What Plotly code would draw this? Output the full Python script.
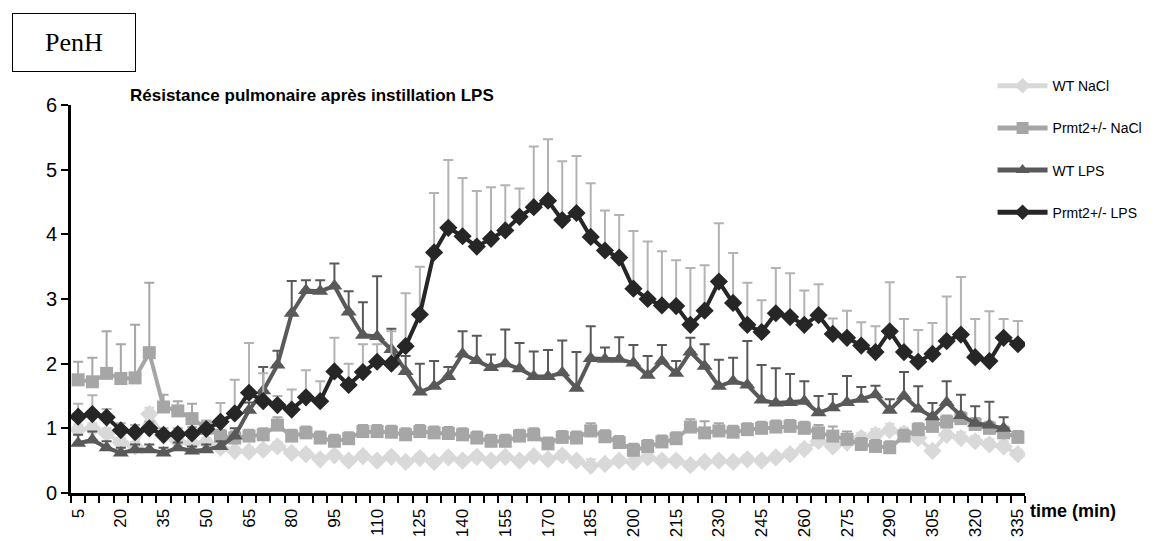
import plotly.graph_objects as go

# time points (min)
time_min = list(range(5, 340, 5))
tick_labels = list(range(5, 340, 15))

# mean PenH per group
wt_nacl = [0.98, 1.00, 0.92, 0.78, 0.72, 1.22, 0.88, 0.80, 0.76, 0.78,
           0.70, 0.65, 0.64, 0.67, 0.72, 0.62, 0.60, 0.52, 0.58, 0.50,
           0.57, 0.50, 0.56, 0.48, 0.54, 0.48, 0.55, 0.50, 0.56, 0.50,
           0.56, 0.50, 0.57, 0.52, 0.58, 0.50, 0.42, 0.45, 0.50, 0.48,
           0.55, 0.50, 0.50, 0.43, 0.48, 0.50, 0.48, 0.52, 0.50, 0.55,
           0.60, 0.68, 0.80, 0.72, 0.78, 0.85, 0.90, 0.97, 0.92, 0.85,
           0.65, 0.90, 0.85, 0.80, 0.75, 0.72, 0.60]
prmt2_nacl = [1.75, 1.72, 1.85, 1.77, 1.78, 2.17, 1.33, 1.27, 1.15, 1.00,
              0.88, 0.85, 0.88, 0.90, 1.05, 0.88, 0.93, 0.85, 0.80, 0.84,
              0.95, 0.95, 0.94, 0.90, 0.95, 0.93, 0.92, 0.90, 0.85, 0.80,
              0.80, 0.88, 0.90, 0.76, 0.86, 0.85, 0.96, 0.87, 0.78, 0.66,
              0.72, 0.79, 0.84, 1.02, 0.93, 0.96, 0.94, 0.98, 1.00, 1.02,
              1.03, 1.00, 0.93, 0.88, 0.83, 0.75, 0.72, 0.70, 0.88, 0.98,
              1.03, 1.10, 1.15, 1.06, 1.00, 0.93, 0.86]
wt_lps = [0.77, 0.82, 0.70, 0.62, 0.67, 0.67, 0.62, 0.70, 0.65, 0.67,
          0.72, 0.88, 1.28, 1.58, 1.98, 2.78, 3.13, 3.12, 3.20, 2.80,
          2.44, 2.42, 2.22, 1.88, 1.56, 1.65, 1.80, 2.15, 2.05, 1.94,
          2.00, 1.92, 1.80, 1.80, 1.86, 1.62, 2.08, 2.07, 2.07, 2.01,
          1.82, 2.04, 1.85, 2.18, 1.96, 1.65, 1.73, 1.67, 1.44, 1.39,
          1.40, 1.42, 1.24, 1.32, 1.40, 1.45, 1.52, 1.28, 1.50, 1.30,
          1.18, 1.40, 1.20, 1.08, 1.05, 1.00, None]
prmt2_lps = [1.18, 1.22, 1.17, 0.97, 0.94, 1.00, 0.90, 0.91, 0.92, 0.99,
             1.10, 1.23, 1.55, 1.42, 1.36, 1.29, 1.48, 1.42, 1.88, 1.67,
             1.87, 2.03, 2.00, 2.27, 2.76, 3.72, 4.10, 3.97, 3.81, 3.93,
             4.06, 4.27, 4.42, 4.52, 4.22, 4.33, 3.96, 3.75, 3.64, 3.16,
             3.00, 2.90, 2.89, 2.60, 2.82, 3.27, 2.94, 2.60, 2.49, 2.78,
             2.72, 2.60, 2.75, 2.46, 2.40, 2.28, 2.18, 2.50, 2.18, 2.03,
             2.15, 2.35, 2.45, 2.10, 2.04, 2.40, 2.30]

# upper error bars (SEM)
wt_nacl_err = [0.08, 0.08, 0.08, 0.07, 0.07, 0.10, 0.08, 0.07, 0.07, 0.07,
               0.07, 0.06, 0.06, 0.06, 0.07, 0.06, 0.06, 0.06, 0.06, 0.06,
               0.06, 0.06, 0.06, 0.06, 0.06, 0.06, 0.06, 0.06, 0.06, 0.06,
               0.06, 0.06, 0.06, 0.06, 0.06, 0.06, 0.10, 0.06, 0.06, 0.06,
               0.06, 0.06, 0.06, 0.06, 0.06, 0.06, 0.06, 0.06, 0.06, 0.06,
               0.06, 0.07, 0.08, 0.07, 0.08, 0.08, 0.09, 0.10, 0.09, 0.09,
               0.08, 0.10, 0.09, 0.08, 0.08, 0.08, 0.07]
prmt2_nacl_err = [0.28, 0.37, 0.65, 0.53, 0.82, 1.08, 0.19, 0.15, 0.23, 0.10,
                  0.10, 0.10, 0.10, 0.10, 0.12, 0.10, 0.10, 0.10, 0.10, 0.10,
                  0.10, 0.10, 0.10, 0.10, 0.10, 0.10, 0.10, 0.10, 0.10, 0.10,
                  0.10, 0.10, 0.10, 0.10, 0.10, 0.10, 0.12, 0.10, 0.10, 0.10,
                  0.10, 0.10, 0.10, 0.12, 0.18, 0.12, 0.10, 0.10, 0.10, 0.10,
                  0.10, 0.10, 0.12, 0.15, 0.12, 0.10, 0.10, 0.10, 0.10, 0.10,
                  0.12, 0.10, 0.10, 0.10, 0.10, 0.10, 0.10]
wt_lps_err = [0.13, 0.13, 0.10, 0.08, 0.08, 0.08, 0.08, 0.08, 0.07, 0.08,
              0.08, 0.12, 0.12, 0.37, 0.22, 0.50, 0.16, 0.17, 0.35, 0.32,
              0.51, 0.93, 0.32, 0.24, 0.44, 0.39, 0.15, 0.35, 0.38, 0.20,
              0.53, 0.40, 0.39, 0.41, 0.50, 0.56, 0.50, 0.18, 0.34, 0.28,
              0.30, 0.25, 0.19, 0.22, 0.34, 0.41, 0.36, 0.68, 0.54, 0.54,
              0.44, 0.31, 0.26, 0.21, 0.41, 0.19, 0.14, 0.17, 0.37, 0.35,
              0.21, 0.33, 0.32, 0.26, 0.36, 0.17, None]
prmt2_lps_err = [0.20, 0.29, 0.13, 0.11, 0.11, 0.10, 0.10, 0.09, 0.10, 0.13,
                 0.29, 0.52, 0.77, 0.43, 0.14, 0.31, 0.42, 0.31, 0.52, 0.33,
                 0.43, 0.27, 0.50, 0.82, 0.74, 0.92, 1.05, 0.90, 0.86, 0.80,
                 0.70, 0.44, 0.94, 0.95, 0.91, 0.88, 0.83, 0.62, 0.66, 0.89,
                 0.89, 0.84, 0.71, 0.88, 0.70, 0.90, 0.77, 0.65, 0.49, 0.70,
                 0.68, 0.53, 0.48, 0.24, 0.42, 0.36, 0.40, 0.76, 0.51, 0.49,
                 0.48, 0.69, 0.89, 0.59, 0.77, 0.29, 0.36]

series = [
    ("WT NaCl", wt_nacl, wt_nacl_err, "#d9d9d9", "#d9d9d9", "diamond"),
    ("Prmt2+/- NaCl", prmt2_nacl, prmt2_nacl_err, "#a6a6a6", "#a6a6a6", "square"),
    ("WT LPS", wt_lps, wt_lps_err, "#595959", "#595959", "triangle-up"),
    ("Prmt2+/- LPS", prmt2_lps, prmt2_lps_err, "#262626", "#b3b3b3", "diamond"),
]

fig = go.Figure()
for i, (name, vals, err, col, err_col, sym) in enumerate(series):
    fig.add_trace(go.Scatter(
        x=time_min, y=vals, name=name, mode="lines+markers",
        legendgroup=str(i),
        line=dict(color=col, width=4),
        marker=dict(symbol=sym, size=14 if sym != "square" else 13, color=col),
        error_y=dict(type="data", array=err, symmetric=False,
                     arrayminus=[0] * len(err), color=err_col,
                     thickness=2, width=5),
    ))

fig.update_layout(
    width=1164, height=541,
    plot_bgcolor="white", paper_bgcolor="white",
    font=dict(family="Liberation Sans, Arial", color="black"),
    margin=dict(l=63, r=147, t=97, b=56),
    legend=dict(x=0.966, y=1.09, xanchor="left", yanchor="top",
                font=dict(size=14), itemwidth=50, tracegroupgap=21,
                traceorder="grouped", itemsizing="constant"),
    xaxis=dict(
        range=[2.5, 337.5], tickmode="array", tickvals=tick_labels,
        ticks="", tickangle=-90, tickfont=dict(size=17),
        showline=True, linecolor="black", linewidth=3, showgrid=False,
        zeroline=False, ticklabelstandoff=6,
        minor=dict(ticks="outside", tick0=2.5, dtick=5, ticklen=7,
                   tickwidth=2, tickcolor="black", showgrid=False),
    ),
    yaxis=dict(
        range=[0, 6], dtick=1, ticks="outside", ticklen=7, tickwidth=2,
        tickcolor="black", tickfont=dict(size=20),
        showline=True, linecolor="black", linewidth=3, showgrid=False,
        zeroline=False,
    ),
    annotations=[
        dict(text="<b>Résistance pulmonaire après instillation LPS</b>",
             xref="paper", yref="paper", x=0.06, y=1.055, xanchor="left",
             yanchor="top", showarrow=False, font=dict(size=17)),
        dict(text="<b>time (min)</b>", xref="paper", yref="paper",
             x=1.003, y=-0.015, xanchor="left", yanchor="top",
             showarrow=False, font=dict(size=18)),
        dict(text="PenH", xref="paper", yref="paper", x=-0.062, y=1.236,
             xanchor="left", yanchor="top", showarrow=False,
             font=dict(family="Liberation Serif, Times New Roman", size=26),
             bordercolor="black", borderwidth=1, borderpad=14,
             width=94),
    ],
)

fig.write_html("out.html")
